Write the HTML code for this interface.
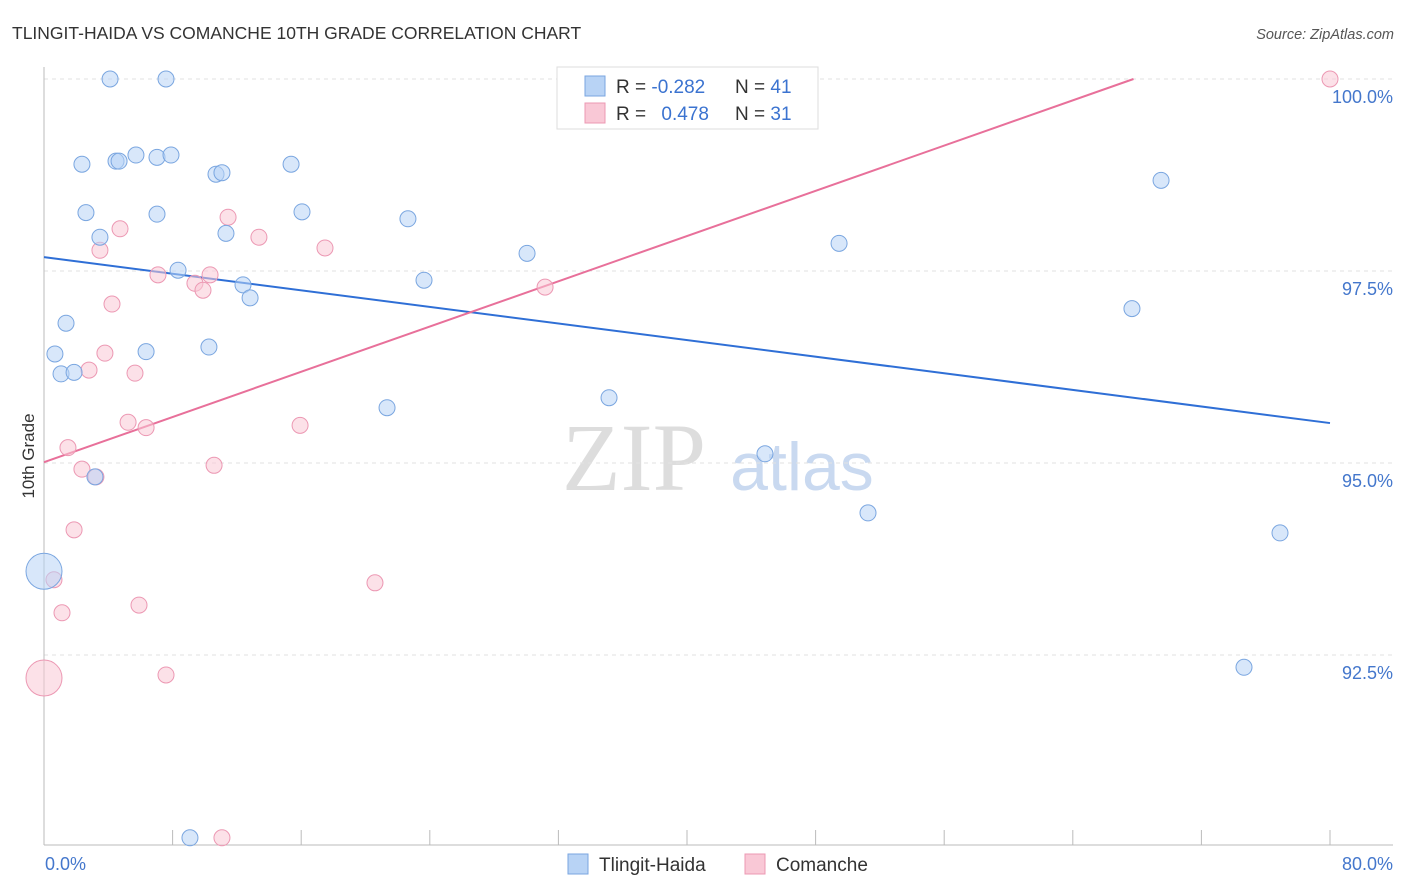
<!DOCTYPE html>
<html><head><meta charset="utf-8"><style>
body{margin:0;background:#fff;font-family:"Liberation Sans",sans-serif}
svg{display:block}
</style></head><body>
<svg id="c" width="1406" height="892">
<text x="12" y="39" font-size="17.5" fill="#333">TLINGIT-HAIDA VS COMANCHE 10TH GRADE CORRELATION CHART</text>
<text x="1394" y="39" font-size="14.5" fill="#555" font-style="italic" text-anchor="end">Source: ZipAtlas.com</text>
<text transform="translate(34,456) rotate(-90)" font-size="17" fill="#333" text-anchor="middle">10th Grade</text>
<g>
<text x="634" y="490" font-size="96" font-family="Liberation Serif,serif" fill="#ddd" text-anchor="middle">ZIP</text>
<text x="802" y="490" font-size="68" fill="#c9d9f0" text-anchor="middle">atlas</text>
</g>
<g id="grid"></g><g id="axes"></g><g id="lines"></g><g id="pts"></g>
<g>
<rect x="557" y="67" width="261" height="62" fill="#fff" stroke="#ddd"/>
<rect x="585" y="76" width="20" height="20" fill="#b8d3f5" stroke="#7aa6e0"/>
<rect x="585" y="103" width="20" height="20" fill="#f9c8d6" stroke="#ec98b3"/>
<text x="616" y="93" font-size="19" fill="#333">R = <tspan fill="#3b73d0">-0.282</tspan></text>
<text x="735" y="93" font-size="19" fill="#333">N = <tspan fill="#3b73d0">41</tspan></text>
<text x="616" y="120" font-size="19" fill="#333">R = <tspan fill="#3b73d0" dx="10">0.478</tspan></text>
<text x="735" y="120" font-size="19" fill="#333">N = <tspan fill="#3b73d0">31</tspan></text>
</g>
<g>
<rect x="568" y="854" width="20" height="20" fill="#b8d3f5" stroke="#7aa6e0"/>
<text x="599" y="871" font-size="19" fill="#333">Tlingit-Haida</text>
<rect x="745" y="854" width="20" height="20" fill="#f9c8d6" stroke="#ec98b3"/>
<text x="776" y="871" font-size="19" fill="#333">Comanche</text>
</g>
</svg>
<script>
const blueX=[4.11,7.59,2.36,4.48,4.67,5.72,7.03,7.90,10.70,11.07,15.37,2.61,7.03,16.05,22.64,3.48,11.32,30.05,49.46,69.49,8.34,12.38,12.82,23.64,67.68,1.37,0.68,6.35,10.26,1.06,1.87,21.34,35.15,44.85,3.17,51.26,76.89,0,74.65,9.08,36.58];
const blueY=[100,100,98.89,98.93,98.93,99.01,98.98,99.01,98.76,98.78,98.89,98.26,98.24,98.27,98.18,97.94,97.99,97.73,97.86,98.68,97.51,97.32,97.15,97.38,97.01,96.82,96.42,96.45,96.51,96.16,96.18,95.72,95.85,95.12,94.82,94.35,94.09,93.59,92.34,90.12,100];
const pinkX=[33.22,80,11.45,4.73,13.37,17.48,3.48,7.09,10.33,9.39,9.89,31.17,4.23,3.79,2.80,5.66,5.23,6.35,15.93,1.49,2.36,3.23,10.58,1.87,0.62,20.59,5.91,1.12,7.59,0,11.07];
const pinkY=[100,100,98.20,98.05,97.94,97.80,97.77,97.45,97.45,97.34,97.25,97.29,97.07,96.43,96.21,96.17,95.53,95.46,95.49,95.20,94.92,94.82,94.97,94.13,93.48,93.44,93.15,93.05,92.24,92.20,90.12];
const yTicks=[100,97.5,95,92.5];
const yTickLabels=["100.0%","97.5%","95.0%","92.5%"];
const blueTrend=[97.68,95.52];
const pinkTrend=[95.01,100.9];
const NS="http://www.w3.org/2000/svg";
const xs=v=>44+v/80*1286, ys=v=>79+(100-v)*76.8;
function mk(p,t,a){const e=document.createElementNS(NS,t);for(const k in a)e.setAttribute(k,a[k]);document.getElementById(p).appendChild(e);return e;}
yTicks.forEach((t,i)=>{
 const l=mk('grid','line',{x1:44,x2:1393,y1:ys(t),y2:ys(t),stroke:'#e2e2e2','stroke-dasharray':'4,4'});
 
 
 const tx=mk('grid','text',{x:1393,y:ys(t)+24,'font-size':18,fill:'#4477cc','text-anchor':'end'});tx.textContent=yTickLabels[i];
 
 
});
mk('axes','line',{x1:44,x2:44,y1:67,y2:845,stroke:'#bbb'});
mk('axes','line',{x1:44,x2:1393,y1:845,y2:845,stroke:'#bbb'});
for(let i=0;i<=10;i++){const x=xs(i*8);mk('axes','line',{x1:x,x2:x,y1:830,y2:845,stroke:'#bbb'});}
let t=mk('axes','text',{x:45,y:870,'font-size':18,fill:'#4477cc'});t.textContent='0.0%';


t=mk('axes','text',{x:1393,y:870,'font-size':18,fill:'#4477cc','text-anchor':'end'});t.textContent='80.0%';


function dot(x,y,blue){const big=(x===0);const c=mk('pts','circle',{cx:xs(x),cy:ys(y),r:big?18:8,fill:blue?'rgba(184,211,245,0.55)':'rgba(249,200,214,0.55)',stroke:blue?'#7aa6e0':'#ec98b3','stroke-width':1});
 
 }
pinkX.forEach((x,i)=>dot(x,pinkY[i],false));
blueX.forEach((x,i)=>dot(x,blueY[i],true));
let bl=mk('lines','line',{x1:xs(0),y1:ys(blueTrend[0]),x2:xs(80),y2:ys(blueTrend[1]),stroke:'#2f6fd6','stroke-width':2});


const xe=(100-pinkTrend[0])/(pinkTrend[1]-pinkTrend[0])*80;
let pl=mk('lines','line',{x1:xs(0),y1:ys(pinkTrend[0]),x2:xs(Math.min(80,xe)),y2:ys(Math.min(100,pinkTrend[1])),stroke:'#e8709a','stroke-width':2});


</script>
</body></html>
